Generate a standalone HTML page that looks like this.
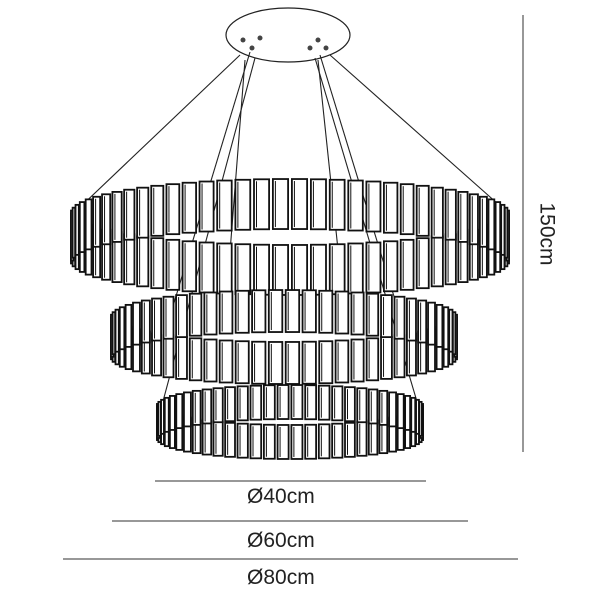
<!DOCTYPE html>
<html><head><style>
body{margin:0;background:#fff;width:600px;height:600px;overflow:hidden;position:relative;font-family:"Liberation Sans",sans-serif}
.t{position:absolute;font-size:21px;color:#222;}
</style></head><body>
<svg id="s" width="600" height="600" style="position:absolute;left:0;top:0">
<g id="g"></g>
<line x1="523" y1="15" x2="523" y2="452" stroke="#777" stroke-width="1.5"/>
<line x1="155" y1="481" x2="426" y2="481" stroke="#777" stroke-width="1.5"/>
<line x1="112" y1="521" x2="468" y2="521" stroke="#777" stroke-width="1.5"/>
<line x1="63" y1="559" x2="518" y2="559" stroke="#777" stroke-width="1.5"/>
</svg>
<div class="t" style="left:247px;top:485px">Ø40cm</div>
<div class="t" style="left:247px;top:529px">Ø60cm</div>
<div class="t" style="left:247px;top:566px">Ø80cm</div>
<div class="t" style="left:515px;top:222px;transform:rotate(90deg);transform-origin:center">150cm</div>
<script>
var g=document.getElementById('g'),ns='http://www.w3.org/2000/svg';
function el(t,a){var e=document.createElementNS(ns,t);for(var k in a)e.setAttribute(k,a[k]);g.appendChild(e);return e;}
el('ellipse',{cx:288,cy:35,rx:62,ry:27,fill:'#fff',stroke:'#222','stroke-width':1.2});
var rings=[[290,212,218,33,50,72],[284,316,172,26,42,64],[290,405,132,20,34,60]];
var cab=[[240,55,75,212],[250,52,170,316],[255,58,162,405],[330,55,507,212],[320,55,400,316],[315,58,418,405],[245,60,225,316],[318,60,345,316]];
cab.forEach(function(c){el('line',{x1:c[0],y1:c[1],x2:c[2],y2:c[3],stroke:'#222','stroke-width':1.1});});
[[243,40],[252,48],[260,38],[318,40],[310,48],[326,48]].forEach(function(p){el('circle',{cx:p[0],cy:p[1],r:2.5,fill:'#444'});});
function ring(r,front){var cx=r[0],cy=r[1],rx=r[2],ry=r[3],h=r[4],n=r[5];
 var arr=[];for(var i=0;i<n;i++){var a=2*Math.PI*(i+0.5)/n;var s=Math.sin(a);if(front?s>0:s<=0)continue;arr.push(a);}
 arr.sort(function(a,b){return Math.abs(Math.sin(a))-Math.abs(Math.sin(b));});
 arr.forEach(function(a){var x=cx+rx*Math.cos(a),y=cy+ry*Math.sin(a);var w=Math.max(2.5,2*Math.PI*rx/n*Math.abs(Math.sin(a))*0.8);
  el('rect',{x:x-w/2,y:y,width:w,height:h,fill:'#fff',stroke:'#111','stroke-width':1.8});
  if(w>7){el('line',{x1:x-w/2+2.5,y1:y+2,x2:x-w/2+2.5,y2:y+h-2,stroke:'#111','stroke-width':1});}
 });}
rings.forEach(function(r){ring(r,false);ring(r,true);});
</script>
</body></html>
